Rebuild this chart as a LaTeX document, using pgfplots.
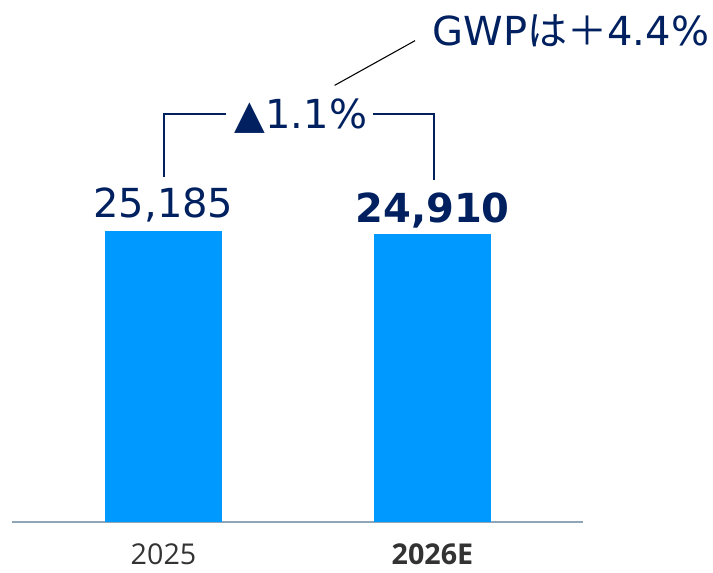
\documentclass[border=0pt]{standalone}
\usepackage{pgfplots}
\pgfplotsset{compat=1.18}
\usepackage{fontspec}
\setmainfont{DejaVu Sans}
\newfontfamily\tickfont{Open Sans}
\newfontfamily\cjk{Noto Sans CJK JP}
\definecolor{barblue}{HTML}{0099FF}
\definecolor{navy}{HTML}{002060}
\definecolor{axisgray}{HTML}{8FA5B8}
\definecolor{ticktext}{HTML}{333333}
\begin{document}
\begin{tikzpicture}
\path[use as bounding box] (0,0) rectangle (534.75pt,429.75pt);
\begin{axis}[
  at={(9pt,38.25pt)}, anchor=south west, scale only axis,
  width=428.25pt, height=391.5pt,
  xmin=-0.5632, xmax=1.5595, ymin=0, ymax=45177,
  axis x line=bottom, axis y line=none,
  x axis line style={draw=axisgray, line width=1.5pt, -},
  xtick={0,1}, xticklabels={2025,\bfseries 2026E},
  major tick length=0pt,
  xticklabel style={anchor=base, inner sep=0pt, yshift=-32pt, text=ticktext, font=\tickfont\fontsize{21.5}{26}\selectfont},
  ytick=\empty,
  clip=false,
]
\addplot[ybar, bar shift=0pt, bar width=0.435, fill=barblue, draw=none,
  nodes near coords={25,185},
  every node near coord/.append style={anchor=base, yshift=9.75pt, text=navy, font=\fontsize{30}{36}\selectfont}]
  coordinates {(0,25185)};
\addplot[ybar, bar shift=0pt, bar width=0.435, fill=barblue, draw=none,
  nodes near coords={24,910},
  every node near coord/.append style={anchor=base, yshift=9pt, text=navy, font=\bfseries\fontsize{30}{36}\selectfont}]
  coordinates {(1,24910)};
\draw[navy, line width=1.5pt] (axis cs:0,29858) -- (axis cs:0,35311) -- (axis cs:0.232,35311);
\draw[navy, line width=1.5pt] (axis cs:0.779,35311) -- (axis cs:1.007,35311) -- (axis cs:1.007,29599);
\node[anchor=base, inner sep=0pt, text=navy, font=\fontsize{30}{36}\selectfont] at (axis cs:0.511,34013) {▲1.1\%};
\draw[black, line width=0.8pt] (axis cs:0.636,37786) -- (axis cs:0.935,41655);
\node[anchor=base west, inner sep=0pt, text=navy, font=\fontsize{30}{36}\selectfont] at (axis cs:1.0004,41248) {GWP{\cjk は＋}4.4\%};
\end{axis}
\end{tikzpicture}
\end{document}
